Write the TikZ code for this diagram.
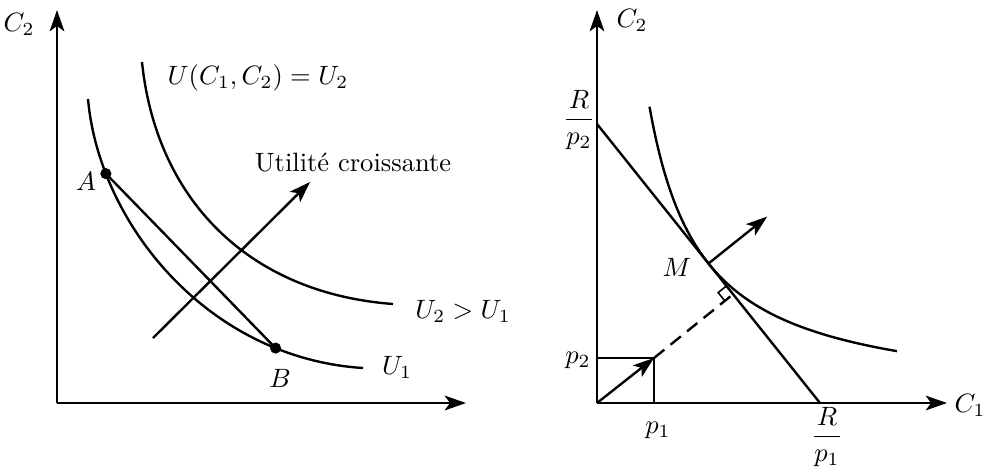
\documentclass[tikz,border=0pt]{standalone}
\usepackage{amsmath}
\usetikzlibrary{arrows.meta,calc}

\tikzset{
  axis/.style={line width=1pt, -{Stealth[length=8pt,width=5.5pt,inset=2pt]}},
  curve/.style={line width=0.9pt},
  vec/.style={line width=0.9pt, -{Stealth[length=8pt,width=5.5pt,inset=2pt]}},
  guide/.style={line width=0.4pt},
  dot/.style={circle, fill, inner sep=0pt, minimum size=4.2pt}
}

\begin{document}
\begin{tikzpicture}[x=0.377pt, y=0.377pt, every node/.style={font=\normalsize}]
  \useasboundingbox (-57,-65) rectangle (931,403);

  % left panel: two indifference curves
  \coordinate (O) at (0,0);
  \draw[axis] (O) -- (0,393) coordinate (yl);
  \draw[axis] (O) -- (409,0) coordinate (xl);
  \node (c2l) at (-38,379) {$C_2$};

  % U1, with A and B on it
  \draw[curve] (31,304) .. controls (42,180) and (150,45) .. (306,35)
    coordinate[pos=0.2] (A) coordinate[pos=0.8] (B);
  % U2
  \draw[curve] (85,341) .. controls (99,205) and (190,110) .. (336,99);
  \draw[curve] (A) -- (B);
  \node[dot] (dA) at (A) {};
  \node[dot] (dB) at (B) {};
  \node (lA) at (29,222) {$A$};
  \node (lB) at (223,25) {$B$};

  \coordinate (s) at (96,65);
  \coordinate (t) at (253,221);
  \draw[vec] (s) -- (t);
  \node (util) at (296,240) {Utilité croissante};
  \node (eq) at (201,325) {$U(C_1,C_2)=U_2$};
  \node (u2) at (406,92) {$U_2>U_1$};
  \node (u1) at (340,36) {$U_1$};

  % right panel: optimum on the budget line
  \begin{scope}[shift={(540,0)}]
    \coordinate (O2) at (0,0);
    \draw[axis] (O2) -- (0,393) coordinate (yr);
    \draw[axis] (O2) -- (350,0) coordinate (xr);
    \node (c2r) at (35,383) {$C_2$};
    \node (c1r) at (373,-2) {$C_1$};

    \coordinate (Rp2) at (0,279);
    \coordinate (Rp1) at (223,0);
    \draw[curve] (Rp2) -- (Rp1);
    \node (fr2) at (-18,283) {$\dfrac{R}{p_2}$};
    \node (fr1) at (230,-34) {$\dfrac{R}{p_1}$};

    % price vector
    \coordinate (P) at (57,45);
    \draw[guide] (0,45) -- (P) -- (57,0);
    \node (lp2) at (-19,43) {$p_2$};
    \node (lp1) at (61,-27) {$p_1$};
    \draw[vec] (O2) -- (P);

    % foot of the normal and right angle mark
    \coordinate (F) at ($(Rp2)!(O2)!(Rp1)$);
    \draw[curve, dashed, dash pattern=on 5pt off 3pt] (P) -- (F);
    \coordinate (F1) at ($(F)!4pt!(Rp2)$);
    \coordinate (F2) at ($(F)!4pt!(O2)$);
    \draw[guide, line width=0.6pt] (F1) -- ($(F1)+(F2)-(F)$) -- (F2);

    % tangent indifference curve
    \draw[curve] plot[domain=52.5:300, samples=80] (\x, {15554/\x});
    \coordinate (M) at (111.5,139.5);
    \node (lM) at (80,136) {$M$};
    \draw[vec] (M) -- ++(58.6,46.9) coordinate (Mt);
  \end{scope}
\end{tikzpicture}
\end{document}
